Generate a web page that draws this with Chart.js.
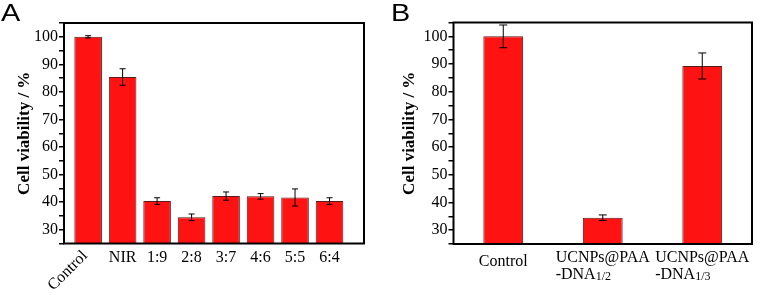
<!DOCTYPE html>
<html>
<head>
<meta charset="utf-8">
<script src="https://cdn.jsdelivr.net/npm/chart.js@4/dist/chart.umd.min.js"></script>
<style>
  html, body { margin: 0; padding: 0; background: #fff; }
  body { width: 762px; height: 295px; position: relative; overflow: hidden; }
  .panel { position: absolute; top: 0; width: 381px; height: 295px; }
  #wrapA { left: 0; }
  #wrapB { left: 381px; }
</style>
</head>
<body>
<div class="panel" id="wrapA"><canvas id="chartA"></canvas></div>
<div class="panel" id="wrapB"><canvas id="chartB"></canvas></div>
<script>
// panel A
const categoriesA = ["Control", "NIR", "1:9", "2:8", "3:7", "4:6", "5:5", "6:4"];
const valuesA = [100, 85.4, 40.4, 34.5, 42.2, 42.1, 41.7, 40.4];
const errorsA = [0.4, 3.0, 1.2, 1.2, 1.5, 1.0, 3.1, 1.2];

// panel B ("\n" = new line, "_" = subscript follows)
const categoriesB = ["Control", "UCNPs@PAA\n-DNA_1/2", "UCNPs@PAA\n-DNA_1/3"];
const valuesB = [100, 34.5, 89.3];
const errorsB = [4.1, 1.0, 4.7];

const yTicks = [30, 40, 50, 60, 70, 80, 90, 100];

const SERIF = "'Liberation Serif', 'Times New Roman', serif";
const RED = "#ff1212";

// box around plot area + error bars + category labels + panel letter
const decor = {
    id: "decor",
    afterDatasetsDraw(chart, args, opts) {
        const { ctx, chartArea } = chart;
        const x = chart.scales.x;
        const y = chart.scales.y;
        const meta = chart.getDatasetMeta(0);

        // error bars
        ctx.save();
        ctx.strokeStyle = "#000";
        ctx.lineWidth = 1;
        opts.errors.forEach((e, i) => {
            const bar = meta.data[i];
            const v = chart.data.datasets[0].data[i].y;
            const top = y.getPixelForValue(v + e);
            const bot = y.getPixelForValue(v - e);
            ctx.beginPath();
            ctx.moveTo(bar.x, top);
            ctx.lineTo(bar.x, bot);
            ctx.moveTo(bar.x - opts.cap, top);
            ctx.lineTo(bar.x + opts.cap, top);
            ctx.moveTo(bar.x - opts.cap, bot);
            ctx.lineTo(bar.x + opts.cap, bot);
            ctx.stroke();
        });
        ctx.restore();

        // frame
        ctx.save();
        ctx.strokeStyle = "#000";
        ctx.lineWidth = 2;
        ctx.strokeRect(chartArea.left, chartArea.top,
            chartArea.right - chartArea.left, chartArea.bottom - chartArea.top);
        ctx.restore();

        // category labels
        ctx.save();
        ctx.fillStyle = "#000";
        const pitch = x.getPixelForValue(2) - x.getPixelForValue(1);
        opts.labels.forEach((lab, i) => {
            const cx = x.getPixelForValue(i + 1);
            const lines = lab.split("\n");
            ctx.font = "16px " + SERIF;
            if (lines.length === 1 && ctx.measureText(lab).width > pitch * 0.9) {
                // long label: rotated like the original
                ctx.save();
                ctx.translate(cx - 3, chartArea.bottom + 10);
                ctx.rotate(-Math.PI / 4);
                ctx.textAlign = "right";
                ctx.textBaseline = "middle";
                ctx.fillText(lab, 0, 0);
                ctx.restore();
                return;
            }
            if (lines.length === 1) {
                ctx.textAlign = "center";
                ctx.textBaseline = "middle";
                ctx.fillText(lab, cx, chartArea.bottom + opts.labelOffset);
                return;
            }
            const firstW = ctx.measureText(lines[0]).width;
            const left = cx - firstW / 2;
            lines.forEach((ln, k) => {
                const yy = chartArea.bottom + 14 + 17 * k;
                const [main, sub] = ln.split("_");
                ctx.textAlign = "left";
                ctx.textBaseline = "middle";
                ctx.font = "16px " + SERIF;
                ctx.fillText(main, left, yy);
                if (sub) {
                    const w = ctx.measureText(main).width;
                    ctx.font = "12px " + SERIF;
                    ctx.fillText(sub, left + w, yy + 2);
                }
            });
        });
        ctx.restore();

        // panel letter
        ctx.save();
        ctx.fillStyle = "#000";
        ctx.font = "24px 'Liberation Sans', Arial, sans-serif";
        ctx.textBaseline = "alphabetic";
        ctx.translate(opts.letterX, 21);
        ctx.scale(1.2, 1);
        ctx.fillText(opts.letter, 0, 0);
        ctx.restore();
    },
};

function makeChart(id, cats, vals, errs, cfg) {
    const ctx = document.getElementById(id).getContext("2d");
    return new Chart(ctx, {
        type: "bar",
        data: {
            datasets: [
                {
                    data: vals.map((v, i) => ({ x: i + 1, y: v })),
                    backgroundColor: RED,
                    borderColor: "#5c1a1a",
                    borderWidth: 1,
                    categoryPercentage: 1,
                    barPercentage: cfg.barPct,
                },
            ],
        },
        options: {
            responsive: true,
            maintainAspectRatio: false,
            animation: false,
            layout: {
                padding: cfg.padding,
            },
            plugins: {
                legend: { display: false },
                tooltip: { enabled: false },
                decor: {
                    errors: errs,
                    labels: cats,
                    cap: cfg.cap,
                    letter: cfg.letter,
                    letterX: cfg.letterX,
                    labelOffset: cfg.labelOffset,
                },
            },
            scales: {
                x: {
                    type: "linear",
                    offset: false,
                    min: cfg.xMin,
                    max: cats.length + cfg.xPadRight,
                    grid: { display: false },
                    border: { display: false },
                    ticks: { display: false },
                    afterBuildTicks: (s) => {
                        s.ticks = cats.map((c, i) => ({ value: i + 1 }));
                    },
                    afterFit: (s) => {
                        s.height = 0;
                    },
                },
                y: {
                    min: 25,
                    max: 105,
                    border: { display: false },
                    grid: {
                        drawOnChartArea: false,
                        drawTicks: true,
                        tickLength: 5,
                        color: "#000",
                        lineWidth: 1.5,
                    },
                    ticks: {
                        stepSize: 5,
                        autoSkip: false,
                        color: "#000",
                        padding: 1,
                        font: { family: SERIF, size: 16 },
                        callback: (v) => (yTicks.includes(v) ? v : ""),
                    },
                    title: {
                        display: true,
                        text: "Cell viability / %",
                        color: "#000",
                        font: { family: SERIF, size: 17, weight: "bold" },
                        padding: { top: cfg.titlePad, bottom: 0 },
                    },
                    afterFit: (s) => {
                        s.width = cfg.yWidth;
                    },
                },
            },
        },
        plugins: [decor],
    });
}

makeChart("chartA", categoriesA, valuesA, errorsA, {
    barPct: 0.8,
    cap: 3,
    letter: "A",
    letterX: 1,
    labelOffset: 14.5,
    xMin: 0.3,
    xPadRight: 1,
    yWidth: 64,
    titlePad: 14,
    padding: { left: 0, top: 23, right: 17, bottom: 51.5 },
});

makeChart("chartB", categoriesB, valuesB, errorsB, {
    barPct: 0.4,
    cap: 4,
    letter: "B",
    letterX: 10,
    labelOffset: 18,
    xMin: 0.5,
    xPadRight: 0.5,
    yWidth: 72.5,
    titlePad: 18,
    padding: { left: 0, top: 22.5, right: 10, bottom: 51 },
});
</script>
</body>
</html>
